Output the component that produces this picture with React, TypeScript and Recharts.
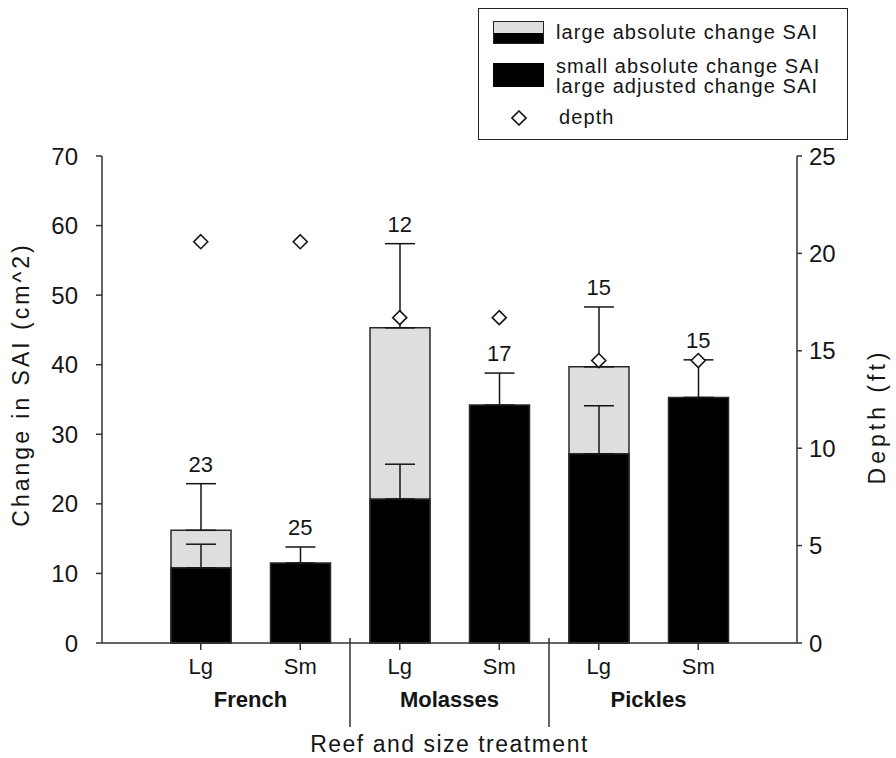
import React from "react";
import {
	Bar,
	ComposedChart,
	ErrorBar,
	LabelList,
	Legend,
	Line,
	XAxis,
	YAxis,
} from "recharts";

const FONT = '"Liberation Sans", Arial, Helvetica, sans-serif';
const INK = "#151515";

// treatment categories (reef x size)
const sizes = ["Lg", "Sm", "Lg", "Sm", "Lg", "Sm"];
const reefs = ["French", "French", "Molasses", "Molasses", "Pickles", "Pickles"];

// change in SAI (cm^2)
const absoluteChange = [16.2, null, 45.3, null, 39.7, null];
const absoluteErr = [6.7, null, 12.1, null, 8.6, null];
const adjustedChange = [10.8, 11.5, 20.7, 34.2, 27.2, 35.3];
const adjustedErr = [3.4, 2.3, 5.0, 4.6, 6.9, 5.4];
const sampleSize = [23, 25, 12, 17, 15, 15];

// depth (ft)
const depth = [20.6, 20.6, 16.7, 16.7, 14.5, 14.5];

const leftTicks = [0, 10, 20, 30, 40, 50, 60, 70];
const rightTicks = [0, 5, 10, 15, 20, 25];

const data = sizes.map((size, i) => {
	const top =
		absoluteChange[i] != null
			? (absoluteChange[i] as number) + (absoluteErr[i] as number)
			: adjustedChange[i] + adjustedErr[i];
	return {
		key: `${reefs[i]}-${size}`,
		absolute: absoluteChange[i],
		absErr: absoluteErr[i] == null ? null : [0, absoluteErr[i]],
		adjusted: adjustedChange[i],
		adjErr: [0, adjustedErr[i]],
		labelPos: top,
		n: sampleSize[i],
		depth: depth[i],
	};
});

const XTick = (props: any) => {
	const { x, y, index, payload } = props;
	const half = payload?.offset || 49.7;
	return (
		<g>
			<text
				x={x}
				y={y + 24}
				textAnchor="middle"
				fontFamily={FONT}
				fontSize={22}
				fill={INK}
			>
				{sizes[index]}
			</text>
			{index % 2 === 0 && (
				<text
					x={x + half}
					y={y + 57}
					textAnchor="middle"
					fontFamily={FONT}
					fontSize={22}
					fontWeight="bold"
					fill={INK}
				>
					{reefs[index]}
				</text>
			)}
			{index % 2 === 1 && index < sizes.length - 1 && (
				<line
					x1={x + half}
					x2={x + half}
					y1={y - 12}
					y2={y + 77}
					stroke="#333"
					strokeWidth={1.5}
				/>
			)}
		</g>
	);
};

const Diamond = (props: any) => {
	const { cx, cy, index } = props;
	if (cx == null || cy == null) return null;
	return (
		<path
			key={`d-${index}`}
			d={`M${cx},${cy - 7}L${cx + 7},${cy}L${cx},${cy + 7}L${cx - 7},${cy}Z`}
			fill="#fff"
			stroke={INK}
			strokeWidth={1.6}
		/>
	);
};

const LegendBox = () => (
	<div
		style={{
			position: "relative",
			width: 370,
			height: 132,
			border: "1.5px solid #222",
			boxSizing: "border-box",
			background: "#fff",
			fontFamily: FONT,
			fontSize: 20,
			letterSpacing: 1.1,
			color: INK,
			lineHeight: "20px",
		}}
	>
		<div
			style={{
				position: "absolute",
				left: 14,
				top: 12,
				width: 51,
				height: 23,
				border: "1.5px solid #222",
				boxSizing: "border-box",
				background: "linear-gradient(#dedede 50%, #000 50%)",
			}}
		/>
		<div style={{ position: "absolute", left: 77, top: 13 }}>
			large absolute change SAI
		</div>
		<div
			style={{
				position: "absolute",
				left: 14,
				top: 54,
				width: 51,
				height: 24,
				background: "#000",
			}}
		/>
		<div style={{ position: "absolute", left: 77, top: 47 }}>
			small absolute change SAI
		</div>
		<div style={{ position: "absolute", left: 77, top: 67 }}>
			large adjusted change SAI
		</div>
		<svg
			style={{ position: "absolute", left: 32, top: 101 }}
			width={16}
			height={16}
		>
			<path d="M8,1L15,8L8,15L1,8Z" fill="#fff" stroke={INK} strokeWidth={1.6} />
		</svg>
		<div style={{ position: "absolute", left: 80, top: 98 }}>depth</div>
	</div>
);

const LeftLabel = (props: any) => {
	const vb = props.viewBox;
	const cx = vb.x + 21;
	const cy = vb.y + vb.height / 2 - 15;
	return (
		<text
			transform={`translate(${cx},${cy}) rotate(-90)`}
			textAnchor="middle"
			dominantBaseline="central"
			fontFamily={FONT}
			fontSize={23}
			letterSpacing={3}
			fill={INK}
		>
			Change in SAI (cm^2)
		</text>
	);
};

const RightLabel = (props: any) => {
	const vb = props.viewBox;
	const cx = vb.x + 80;
	const cy = vb.y + vb.height / 2 + 17;
	return (
		<text
			transform={`translate(${cx},${cy}) rotate(-90)`}
			textAnchor="middle"
			dominantBaseline="central"
			fontFamily={FONT}
			fontSize={23}
			letterSpacing={4}
			fill={INK}
		>
			Depth (ft)
		</text>
	);
};

const BottomLabel = (props: any) => {
	const vb = props.viewBox;
	return (
		<text
			x={vb.x + vb.width / 2}
			y={vb.y + vb.height - 6}
			textAnchor="middle"
			fontFamily={FONT}
			fontSize={23}
			letterSpacing={1.5}
			fill={INK}
		>
			Reef and size treatment
		</text>
	);
};

export default function App() {
	return (
		<div style={{ position: "absolute", left: 0, top: 0, background: "#fff" }}>
			<ComposedChart
				width={896}
				height={758}
				data={data}
				margin={{ top: 156, right: 0, bottom: 0, left: 0 }}
				barGap={-60}
			>
				<XAxis
					dataKey="key"
					type="category"
					height={115}
					padding={{ left: 49, right: 49 }}
					interval={0}
					tickSize={7}
					tickMargin={0}
					tick={<XTick />}
					axisLine={{ stroke: "#333", strokeWidth: 1.5 }}
					tickLine={{ stroke: "#333", strokeWidth: 1.5 }}
					label={BottomLabel}
				/>
				<YAxis
					yAxisId="left"
					width={102}
					domain={[0, 70]}
					ticks={leftTicks}
					tickSize={6}
					tickMargin={18}
					tick={{ fontSize: 24, fill: INK, fontFamily: FONT }}
					axisLine={{ stroke: "#333", strokeWidth: 1.5 }}
					tickLine={{ stroke: "#333", strokeWidth: 1.5 }}
					label={LeftLabel}
				/>
				<YAxis
					yAxisId="right"
					orientation="right"
					width={99}
					domain={[0, 25]}
					ticks={rightTicks}
					tickSize={5}
					tickMargin={7}
					tick={{ fontSize: 24, fill: INK, fontFamily: FONT }}
					axisLine={{ stroke: "#333", strokeWidth: 1.5 }}
					tickLine={{ stroke: "#333", strokeWidth: 1.5 }}
					label={RightLabel}
				/>
				<Legend
					layout="vertical"
					align="center"
					verticalAlign="middle"
					content={<LegendBox />}
					wrapperStyle={{ left: 478, top: 8, width: 370, height: 132 }}
				/>
				<Bar
					yAxisId="left"
					dataKey="absolute"
					barSize={60}
					fill="#dedede"
					stroke="#2a2a2a"
					strokeWidth={1.5}
					isAnimationActive={false}
				>
					<ErrorBar
						dataKey="absErr"
						width={15}
						stroke={INK}
						strokeWidth={1.5}
						direction="y"
					/>
				</Bar>
				<Bar
					yAxisId="left"
					dataKey="adjusted"
					barSize={60}
					fill="#000"
					stroke="#2a2a2a"
					strokeWidth={1.5}
					isAnimationActive={false}
				>
					<ErrorBar
						dataKey="adjErr"
						width={15}
						stroke={INK}
						strokeWidth={1.5}
						direction="y"
					/>
				</Bar>
				<Line
					yAxisId="left"
					dataKey="labelPos"
					stroke="none"
					dot={false}
					activeDot={false}
					legendType="none"
					isAnimationActive={false}
				>
					<LabelList
						dataKey="n"
						position="top"
						offset={12}
						fill={INK}
						fontSize={22}
						fontFamily={FONT}
					/>
				</Line>
				<Line
					yAxisId="right"
					dataKey="depth"
					stroke="none"
					dot={<Diamond />}
					activeDot={false}
					legendType="none"
					isAnimationActive={false}
				/>
			</ComposedChart>
		</div>
	);
}
